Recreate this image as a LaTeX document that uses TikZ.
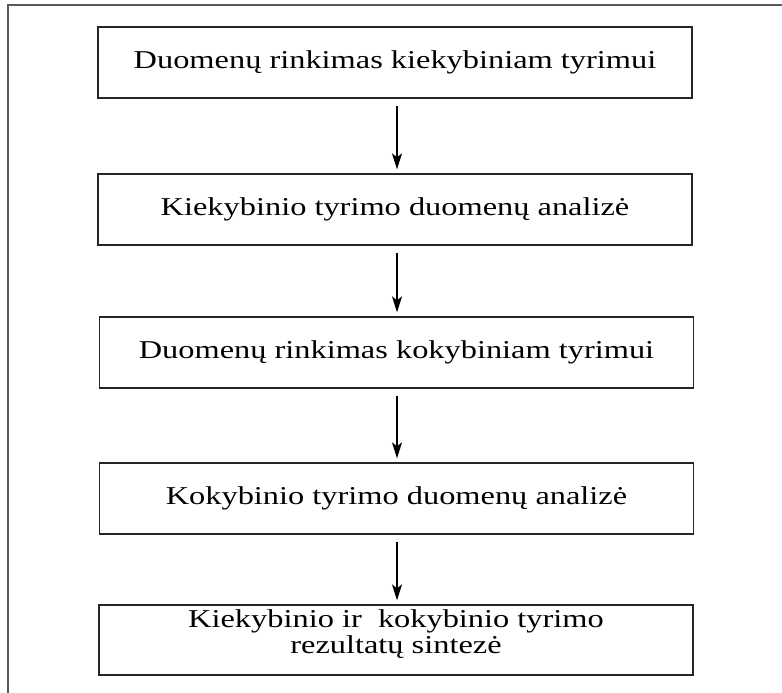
\documentclass[tikz,border=0pt]{standalone}
\usepackage{fontspec}
\setmainfont{Liberation Serif}
\usetikzlibrary{arrows.meta}
\newcommand{\widetext}[1]{\scalebox{1.26}[1]{#1}}
\begin{document}
\begin{tikzpicture}[x=1pt,y=-1pt,
  stepbox/.style={draw=black!85, line width=1.3pt, minimum width=594pt, minimum height=71pt,
    inner sep=0pt, font=\fontsize{25.7}{23}\selectfont, align=center},
  steptext/.style={inner sep=0pt, font=\fontsize{25.7}{23}\selectfont, align=center},
  flow/.style={line width=1.3pt, -{Stealth[length=16pt,width=10pt,inset=4pt]}},
  frameline/.style={draw=black!65, line width=1.3pt}]
\useasboundingbox (0,0) rectangle (782,693);
\draw[frameline] (8,693) -- (8,5) -- (782,5);
\node[stepbox] (s1) at (395,62.5) {\widetext{Duomenų rinkimas kiekybiniam tyrimui}};
\node[stepbox] (s2) at (395,209.5) {\widetext{Kiekybinio tyrimo duomenų analizė}};
\node[stepbox] (s3) at (396.5,352.5) {\widetext{Duomenų rinkimas kokybiniam tyrimui}};
\node[stepbox] (s4) at (396.5,498.5) {\widetext{Kokybinio tyrimo duomenų analizė}};
\node[stepbox, minimum height=70pt] (s5) at (396,640) {};
\node[steptext] (t5) at (396,634) {\widetext{Kiekybinio ir~ kokybinio tyrimo}\\[1pt]\widetext{rezultatų sintezė}};
\coordinate (ax) at (397,0);
\draw[flow] ([yshift=-7pt]s1.south -| ax) -- ([yshift=4pt]s2.north -| ax);
\draw[flow] ([yshift=-7pt]s2.south -| ax) -- ([yshift=4pt]s3.north -| ax);
\draw[flow] ([yshift=-7pt]s3.south -| ax) -- ([yshift=4pt]s4.north -| ax);
\draw[flow] ([yshift=-7pt]s4.south -| ax) -- ([yshift=4pt]s5.north -| ax);
\end{tikzpicture}
\end{document}
